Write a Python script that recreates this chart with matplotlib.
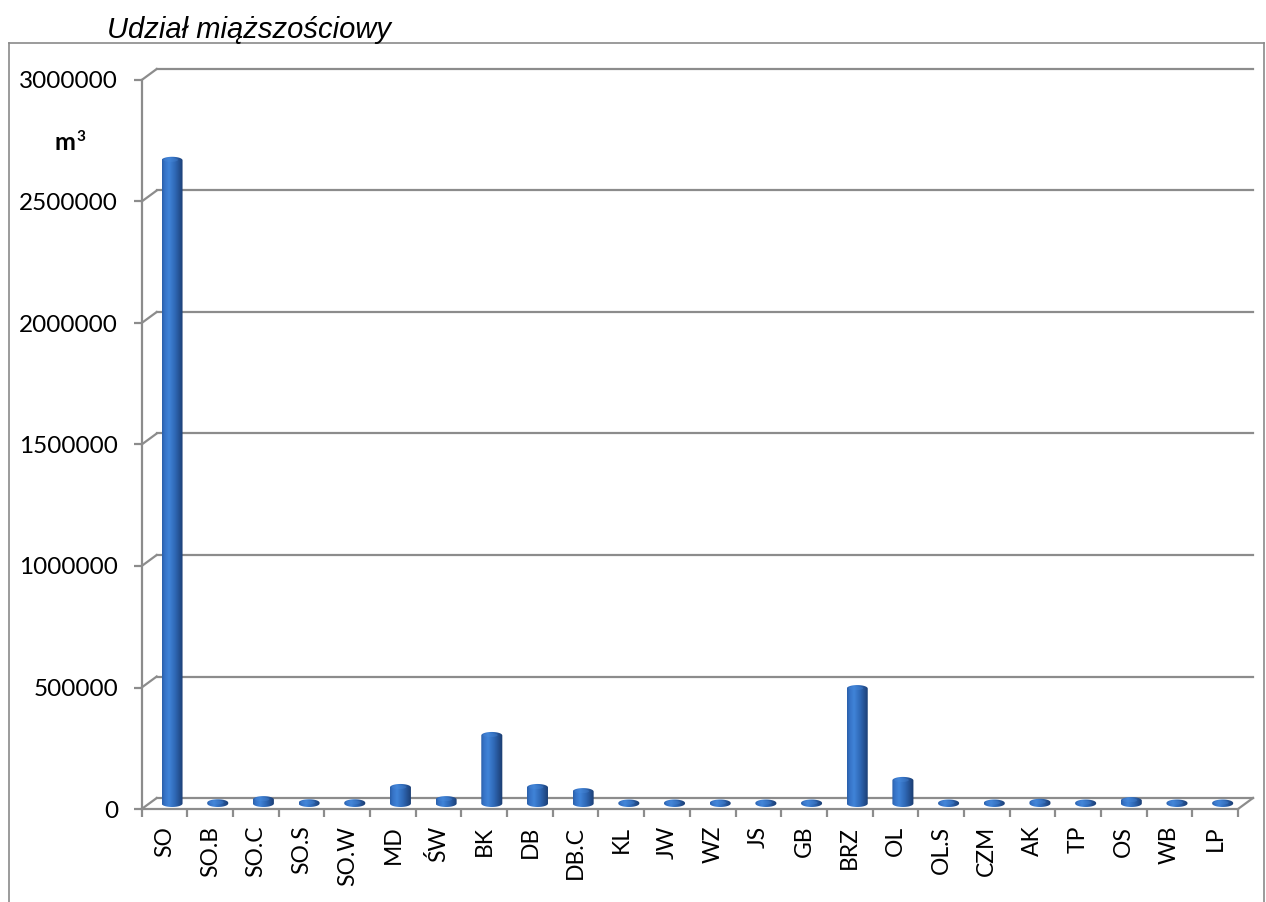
import matplotlib
matplotlib.use('Agg')
import matplotlib.pyplot as plt
import numpy as np
from matplotlib.path import Path
from matplotlib.patches import PathPatch, Ellipse
from matplotlib.lines import Line2D
from matplotlib.colors import to_rgb

# dane
categories = ['SO', 'SO.B', 'SO.C', 'SO.S', 'SO.W', 'MD', 'ŚW', 'BK', 'DB', 'DB.C',
              'KL', 'JW', 'WZ', 'JS', 'GB', 'BRZ', 'OL', 'OL.S', 'CZM', 'AK',
              'TP', 'OS', 'WB', 'LP']
values = [2647000, 3000, 16000, 3000, 3000, 66000, 16000, 280000, 66000, 49000,
          2000, 2000, 2000, 2000, 2000, 473000, 95000, 2000, 2000, 5000,
          2000, 12000, 2000, 2000]
yticks = [0, 500000, 1000000, 1500000, 2000000, 2500000, 3000000]

W, H = 1266, 902
fig = plt.figure(figsize=(W / 100, H / 100), dpi=100)
ax = fig.add_axes([141.7 / W, (H - 809) / H, (1238 - 141.7) / W, 729 / H])
n = len(categories)
ax.set_xlim(-0.5, n - 0.5)
ax.set_ylim(0, 3000000)

px_x = (1238 - 141.7) / n          # px na kategorie
px_y = 729 / 3000000               # px na jednostke
DX = 15 / px_x                     # glebokosc 3D
DY = 11 / px_y
grid_c = '#8c8c8c'

for s in ax.spines.values():
    s.set_visible(False)

# sciana tylna + podloga
for v in yticks:
    ax.add_line(Line2D([-0.5 + DX, n - 0.5 + DX], [v + DY, v + DY], color=grid_c, lw=1.6, clip_on=False, zorder=1))
    ax.add_line(Line2D([-0.5, -0.5 + DX], [v, v + DY], color=grid_c, lw=1.6, clip_on=False, zorder=1))
ax.add_line(Line2D([-0.5, n - 0.5], [0, 0], color=grid_c, lw=1.6, clip_on=False, zorder=2))
ax.add_line(Line2D([n - 0.5, n - 0.5 + DX], [0, DY], color=grid_c, lw=1.6, clip_on=False, zorder=2))
ax.add_line(Line2D([-0.5, -0.5], [0, 3000000], color=grid_c, lw=1.6, clip_on=False, zorder=2))

# cylindry
BW = 0.46
eh = 7 / px_y
base = DY / 2
prof_pos = [0.0, 0.12, 0.32, 0.6, 0.85, 1.0]
prof_col = ['#2a5fa9', '#3673c6', '#4084d8', '#2f68b6', '#224b88', '#1a3b6e']
xs = np.linspace(0, 1, 64)
grad = np.stack([np.interp(xs, prof_pos, [to_rgb(c)[k] for c in prof_col]) for k in range(3)], axis=-1)[None, :, :]

bars = ax.bar(np.arange(n) + DX / 2, values, width=BW, bottom=base, color='none', zorder=3)
for b, v in zip(bars, values):
    x0 = b.get_x()
    x1 = x0 + BW
    xc = (x0 + x1) / 2
    t = np.linspace(np.pi, 2 * np.pi, 30)
    bot = np.column_stack([xc + BW / 2 * np.cos(t), base + eh / 2 * np.sin(t)])
    t2 = np.linspace(0, np.pi, 30)
    top = np.column_stack([xc + BW / 2 * np.cos(t2), base + v + eh / 2 * np.sin(t2)])
    verts = np.vstack([bot, top, bot[:1]])
    patch = PathPatch(Path(verts, closed=True), facecolor='none', edgecolor='none', zorder=3)
    ax.add_patch(patch)
    im = ax.imshow(grad, extent=[x0, x1, base - eh, base + v + eh], aspect='auto',
                   interpolation='bilinear', zorder=3)
    im.set_clip_path(patch)
    ax.add_patch(Ellipse((xc - 0.03, base + v + eh * 0.05), BW * 0.7, eh * 0.55, facecolor='#4a8ada',
                         edgecolor='none', alpha=0.35, zorder=4))

ax.set_xlim(-0.5, n - 0.5)
ax.set_ylim(0, 3000000)

# osie
ax.set_yticks(yticks)
ax.set_yticklabels([str(v) for v in yticks], fontsize=17.5, family='Lato')
ax.tick_params(axis='y', length=6, width=1.6, color=grid_c, pad=11)
ax.set_xticks(np.arange(n + 1) - 0.5)
ax.set_xticklabels([])
ax.tick_params(axis='x', which='major', length=6, width=1.6, color=grid_c)
ax.set_xticks(np.arange(n), minor=True)
ax.set_xticklabels(categories, minor=True, rotation=90, fontsize=16.5, family='Lato')
ax.tick_params(axis='x', which='minor', length=0, pad=12)

fig.text(75 / W, 1 - 143 / H, 'm', fontsize=18, fontweight='bold', family='Lato', ha='right', va='center')
fig.text(76 / W, 1 - 137 / H, '3', fontsize=11, fontweight='bold', family='Lato', ha='left', va='center')
fig.text(107 / W, 1 - 30 / H, 'Udział miąższościowy', fontsize=21, style='italic',
         family='Liberation Sans', ha='left', va='center')

# ramka wykresu
fx0, fx1, fy1 = 9 / W, 1264 / W, 1 - 43 / H
fig.add_artist(Line2D([fx0, fx0], [-0.01, fy1], color='#8a8a8a', lw=1.2))
fig.add_artist(Line2D([fx0, fx1], [fy1, fy1], color='#8a8a8a', lw=1.2))
fig.add_artist(Line2D([fx1, fx1], [-0.01, fy1], color='#8a8a8a', lw=1.2))

plt.savefig('out.png', dpi=100)
